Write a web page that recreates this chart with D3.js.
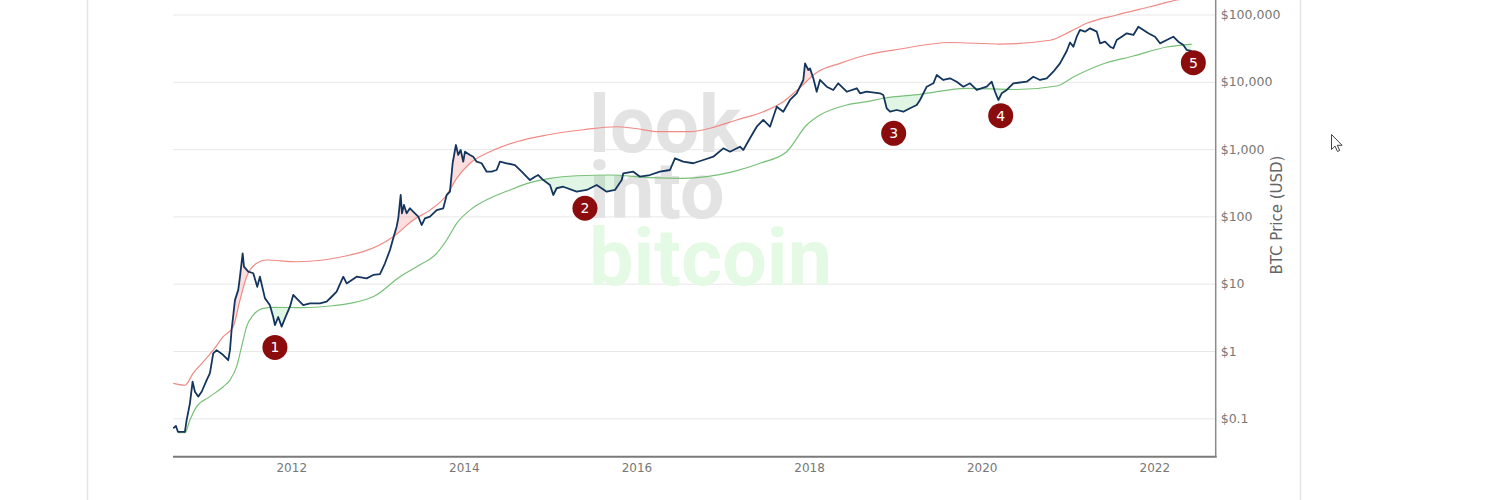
<!DOCTYPE html>
<html>
<head>
<meta charset="utf-8">
<script src="https://cdn.jsdelivr.net/npm/d3@7"></script>
<style>
  body { margin: 0; background: #fff; }
  svg { display: block; }
</style>
</head>
<body>
<div id="chart"></div>
<script>
// Values (decimal year / USD)
var priceDates = [
  2010.633, 2010.664, 2010.687, 2010.768, 2010.788, 2010.826, 2010.857, 2010.884, 2010.922, 2010.962,
  2011.020, 2011.058, 2011.096, 2011.136, 2011.212, 2011.270, 2011.290, 2011.309, 2011.348, 2011.386,
  2011.406, 2011.437, 2011.452, 2011.502, 2011.560, 2011.606, 2011.637, 2011.695, 2011.753, 2011.791,
  2011.811, 2011.849, 2011.889, 2011.927, 2011.985, 2012.023, 2012.081, 2012.139, 2012.217, 2012.333,
  2012.410, 2012.468, 2012.526, 2012.603, 2012.642, 2012.758, 2012.874, 2012.950, 2013.028, 2013.086,
  2013.144, 2013.182, 2013.221, 2013.240, 2013.268, 2013.283, 2013.306, 2013.337, 2013.375, 2013.433,
  2013.472, 2013.511, 2013.549, 2013.607, 2013.685, 2013.761, 2013.801, 2013.839, 2013.870, 2013.897,
  2013.908, 2013.935, 2013.963, 2013.993, 2014.013, 2014.071, 2014.109, 2014.148, 2014.206, 2014.264,
  2014.322, 2014.380, 2014.418, 2014.496, 2014.592, 2014.670, 2014.766, 2014.824, 2014.862, 2014.920,
  2014.998, 2015.036, 2015.075, 2015.152, 2015.307, 2015.423, 2015.539, 2015.655, 2015.751, 2015.829,
  2015.847, 2015.963, 2016.041, 2016.156, 2016.272, 2016.388, 2016.446, 2016.542, 2016.658, 2016.774,
  2016.890, 2017.006, 2017.083, 2017.199, 2017.238, 2017.315, 2017.393, 2017.469, 2017.547, 2017.625,
  2017.701, 2017.779, 2017.856, 2017.933, 2017.953, 2017.991, 2018.010, 2018.049, 2018.088, 2018.126,
  2018.204, 2018.280, 2018.338, 2018.436, 2018.552, 2018.590, 2018.667, 2018.822, 2018.860, 2018.899,
  2018.938, 2019.015, 2019.092, 2019.169, 2019.247, 2019.285, 2019.363, 2019.440, 2019.479, 2019.555,
  2019.633, 2019.710, 2019.787, 2019.864, 2019.942, 2020.058, 2020.116, 2020.154, 2020.193, 2020.232,
  2020.290, 2020.366, 2020.521, 2020.598, 2020.676, 2020.753, 2020.830, 2020.907, 2020.985, 2021.023,
  2021.062, 2021.101, 2021.139, 2021.197, 2021.255, 2021.333, 2021.371, 2021.429, 2021.487, 2021.525,
  2021.564, 2021.622, 2021.680, 2021.757, 2021.815, 2021.873, 2021.931, 2022.008, 2022.066, 2022.144,
  2022.220, 2022.278, 2022.336, 2022.375, 2022.433
];
var priceValues = [
  0.071, 0.077, 0.063, 0.063, 0.094, 0.167, 0.35, 0.248, 0.21, 0.248,
  0.37, 0.47, 0.92, 1.03, 0.87, 0.73, 1.03, 2.05, 5.7, 8.1,
  12.7, 28.3, 17.9, 15.1, 14.3, 9.0, 12.7, 6.1, 4.8, 3.2,
  2.43, 3.2, 2.3, 3.06, 4.55, 6.8, 5.7, 4.8, 5.1, 5.1,
  5.4, 6.4, 7.6, 12.7, 10.1, 12.7, 12.0, 13.5, 13.9, 20.1,
  31.7, 47.3, 70.3, 93.7, 208, 111, 148, 111, 132, 111,
  99, 74.5, 93.7, 99, 124, 132, 208, 233, 616, 970,
  1150, 818, 970, 650, 915, 818, 771, 650, 616, 462,
  462, 489, 650, 616, 580, 462, 347, 389, 412, 347,
  293, 208, 262, 276, 233, 247, 293, 233, 247, 347,
  437, 462, 389, 412, 462, 489, 730, 650, 616, 689,
  771, 1027, 915, 1086, 970, 1448, 2150, 2709, 2150, 4270,
  3593, 5370, 6750, 10640, 18820, 14970, 15850, 11280, 7120, 10640,
  8460, 7560, 9500, 7120, 8010, 6750, 7120, 6750, 6360, 4040,
  3590, 3810, 3590, 4040, 4520, 5370, 8460, 9500, 12630, 10640,
  11280, 10030, 8460, 9500, 7560, 8460, 10030, 7120, 5370, 6750,
  7560, 9500, 10030, 11900, 10640, 11280, 14130, 18820, 28700, 38350,
  33250, 46800, 58900, 55600, 62300, 55600, 37300, 39400, 33250, 31450,
  41800, 46800, 52600, 49600, 65900, 58900, 52600, 46800, 37300, 41800,
  46800, 39400, 35200, 29700, 28500
];

// 2-year moving average (green)
var maDates = [
  2010.687, 2010.768, 2010.826, 2010.904, 2011.058, 2011.212, 2011.290, 2011.367, 2011.425, 2011.483,
  2011.560, 2011.676, 2011.791, 2012.139, 2012.448, 2012.680, 2012.970, 2013.260, 2013.453, 2013.685,
  2013.801, 2013.917, 2014.071, 2014.302, 2014.534, 2014.766, 2014.998, 2015.307, 2015.693, 2016.156,
  2016.542, 2016.813, 2017.122, 2017.431, 2017.740, 2017.972, 2018.126, 2018.436, 2018.667, 2018.860,
  2019.285, 2019.826, 2020.405, 2020.869, 2021.062, 2021.371, 2021.757, 2022.144, 2022.433
];
var maValues = [
  0.061, 0.061, 0.094, 0.149, 0.21, 0.295, 0.37, 0.585, 1.16, 2.3,
  3.42, 4.31, 4.46, 4.4, 4.66, 5.1, 6.6, 12.7, 17.9, 28.3,
  44.6, 78.9, 124, 186, 247, 317, 368, 402, 412, 376,
  368, 389, 462, 616, 915, 2280, 3210, 4520, 5060, 5690,
  6520, 8010, 7690, 8660, 11790, 17770, 24200, 32900, 36400
];

// 2-year MA x5 (red)
var capDates = [
  2010.633, 2010.768, 2010.864, 2010.980, 2011.096, 2011.212, 2011.328, 2011.406, 2011.483, 2011.599,
  2011.715, 2012.063, 2012.371, 2012.680, 2012.834, 2013.182, 2013.414, 2013.607, 2013.801, 2013.917,
  2014.071, 2014.302, 2014.612, 2014.959, 2015.383, 2015.771, 2015.963, 2016.272, 2016.620, 2016.852,
  2017.161, 2017.469, 2017.701, 2017.895, 2018.088, 2018.358, 2018.667, 2019.053, 2019.633, 2020.212,
  2020.792, 2021.023, 2021.217, 2021.564, 2021.950, 2022.260, 2022.433
];
var capValues = [
  0.33, 0.31, 0.47, 0.69, 1.03, 1.63, 2.3, 5.7, 12.7, 20.1,
  22.5, 21.2, 22.5, 26.7, 29.9, 49.9, 88.4, 124, 208, 368,
  616, 915, 1288, 1620, 1940, 2150, 2040, 1814, 1814, 2040,
  2709, 3590, 5060, 8230, 13750, 18820, 25000, 30700, 38350, 36400,
  41400, 55600, 74000, 98300, 130500, 164200, 182000
];

// numbered markers
var markerLabels = ["1", "2", "3", "4", "5"];
var markerDates = [2011.811, 2015.403, 2018.980, 2020.220, 2022.452];
var markerValues = [1.13, 132, 1717, 3135, 19230];

var yTickValues = [0.1, 1, 10, 100, 1000, 10000, 100000];
var xTickValues = [2012, 2014, 2016, 2018, 2020, 2022];
var watermarkWords = ["look", "into", "bitcoin"];

// Set up chart area
var svgWidth = 1500;
var svgHeight = 500;
var margin = { top: 0, left: 173 };
var width = 1042.7;
var height = 456.7;

var svg = d3.select("#chart")
  .append("svg")
  .attr("width", svgWidth)
  .attr("height", svgHeight);

// page container borders
svg.selectAll(".border")
  .data([87.5, 1300.5])
  .enter()
  .append("line")
  .attr("x1", d => d).attr("x2", d => d)
  .attr("y1", 0).attr("y2", svgHeight)
  .attr("stroke", "#e4e4e4")
  .attr("stroke-width", 1.5);

var chartGroup = svg.append("g")
  .attr("transform", `translate(${margin.left}, ${margin.top})`);

var xScale = d3.scaleLinear()
  .domain([2010.630, 2022.711])
  .range([0, width]);

var yScale = d3.scaleLog()
  .domain([0.1, 100000])
  .range([418.3, 14.5]);

var zip = (ds, vs) => ds.map((d, i) => ({ t: d, v: vs[i] }));
var priceData = zip(priceDates, priceValues);
var maData = zip(maDates, maValues);
var capData = zip(capDates, capValues);

var defs = svg.append("defs");
defs.append("clipPath").attr("id", "plotClip")
  .append("rect")
  .attr("x", 0).attr("y", -100)
  .attr("width", width).attr("height", height + 100);

// grid lines
chartGroup.append("g")
  .attr("class", "grid")
  .attr("transform", `translate(${width}, 0)`)
  .call(d3.axisRight(yScale).tickValues(yTickValues).tickSize(-width).tickFormat(""))
  .call(g => g.select(".domain").remove())
  .call(g => g.selectAll("line").attr("stroke", "#e8e8e8").attr("stroke-width", 1));

// watermark (one text block, three lines)
var wm = chartGroup.append("text")
  .attr("x", 416)
  .attr("y", 152)
  .attr("font-family", "Roboto, sans-serif")
  .attr("font-weight", 700)
  .attr("font-size", 79);
wm.selectAll("tspan")
  .data(watermarkWords)
  .enter()
  .append("tspan")
  .attr("x", 416)
  .attr("dy", (d, i) => i === 0 ? 0 : (i === 1 ? 66 : 67))
  .attr("fill", (d, i) => i < 2 ? "#e3e3e3" : "#e5fae5")
  .text(d => d);

var plot = chartGroup.append("g").attr("clip-path", "url(#plotClip)");

var lineGen = d3.line().x(d => xScale(d.t)).y(d => yScale(d.v));
var smoothGen = d3.line().x(d => xScale(d.t)).y(d => yScale(d.v)).curve(d3.curveMonotoneX);

// shading: price above red band, price below green band
defs.append("clipPath").attr("id", "aboveCap")
  .append("path")
  .attr("d", d3.area().x(d => xScale(d.t)).y0(-200).y1(d => yScale(d.v)).curve(d3.curveMonotoneX)(capData));
defs.append("clipPath").attr("id", "belowMa")
  .append("path")
  .attr("d", d3.area().x(d => xScale(d.t)).y0(height).y1(d => yScale(d.v)).curve(d3.curveMonotoneX)(maData));

plot.append("g").attr("clip-path", "url(#aboveCap)")
  .append("path")
  .attr("d", d3.area().x(d => xScale(d.t)).y0(height).y1(d => yScale(d.v))(priceData))
  .attr("fill", "rgba(240, 90, 90, 0.2)");
plot.append("g").attr("clip-path", "url(#belowMa)")
  .append("path")
  .attr("d", d3.area().x(d => xScale(d.t)).y0(-200).y1(d => yScale(d.v))(priceData))
  .attr("fill", "rgba(90, 200, 110, 0.18)");

plot.append("path")
  .datum(capData)
  .attr("d", smoothGen)
  .attr("fill", "none")
  .attr("stroke", "#f08a84")
  .attr("stroke-width", 1.2);

plot.append("path")
  .datum(maData)
  .attr("d", smoothGen)
  .attr("fill", "none")
  .attr("stroke", "#78c078")
  .attr("stroke-width", 1.2);

plot.append("path")
  .datum(priceData)
  .attr("d", lineGen)
  .attr("fill", "none")
  .attr("stroke", "#14365e")
  .attr("stroke-width", 1.8)
  .attr("stroke-linejoin", "round");

// axes
var rightAxis = d3.axisRight(yScale)
  .tickValues(yTickValues)
  .tickSize(0)
  .tickPadding(5)
  .tickFormat(d => "$" + d3.format(",")(d));

chartGroup.append("g")
  .attr("transform", `translate(${width}, 0)`)
  .call(rightAxis)
  .call(g => g.select(".domain").remove())
  .call(g => g.selectAll("text")
    .attr("fill", "#777")
    .attr("font-family", "DejaVu Sans, Verdana, sans-serif")
    .attr("font-size", 12.5));

var bottomAxis = d3.axisBottom(xScale)
  .tickValues(xTickValues)
  .tickSize(0)
  .tickPadding(7)
  .tickFormat(d3.format("d"));

chartGroup.append("g")
  .attr("transform", `translate(0, ${height})`)
  .call(bottomAxis)
  .call(g => g.select(".domain").remove())
  .call(g => g.selectAll("text")
    .attr("fill", "#777")
    .attr("font-family", "DejaVu Sans, Verdana, sans-serif")
    .attr("font-size", 12));

chartGroup.append("line")
  .attr("x1", 0).attr("x2", width + 1)
  .attr("y1", height).attr("y2", height)
  .attr("stroke", "#7a7a7a").attr("stroke-width", 2);

chartGroup.append("line")
  .attr("x1", width).attr("x2", width)
  .attr("y1", 0).attr("y2", height)
  .attr("stroke", "#8a8a8a").attr("stroke-width", 1.5);

chartGroup.append("text")
  .attr("transform", `translate(${1277 - margin.left}, 215) rotate(-90)`)
  .attr("text-anchor", "middle")
  .attr("dominant-baseline", "middle")
  .attr("fill", "#666")
  .attr("font-family", "DejaVu Sans, Verdana, sans-serif")
  .attr("font-size", 15)
  .text("BTC Price (USD)");

// numbered markers
var markers = chartGroup.selectAll(".marker")
  .data(markerLabels.map((l, i) => ({ label: l, t: markerDates[i], v: markerValues[i] })))
  .enter()
  .append("g")
  .attr("class", "marker")
  .attr("transform", d => `translate(${xScale(d.t)}, ${yScale(d.v)})`);

markers.append("circle")
  .attr("r", 12.5)
  .attr("fill", "#8a0c0c");

markers.append("text")
  .attr("text-anchor", "middle")
  .attr("dy", "0.36em")
  .attr("fill", "#fff")
  .attr("font-family", "DejaVu Sans, Verdana, sans-serif")
  .attr("font-size", 14)
  .text(d => d.label);

// mouse pointer
svg.append("path")
  .attr("transform", "translate(1331.5, 134.5)")
  .attr("d", "M0,0 L0,15 L3.5,11.6 L6,17 L8.2,16 L5.8,10.8 L10.6,10.8 Z")
  .attr("fill", "#fff")
  .attr("stroke", "#444")
  .attr("stroke-width", 1);
</script>
</body>
</html>
